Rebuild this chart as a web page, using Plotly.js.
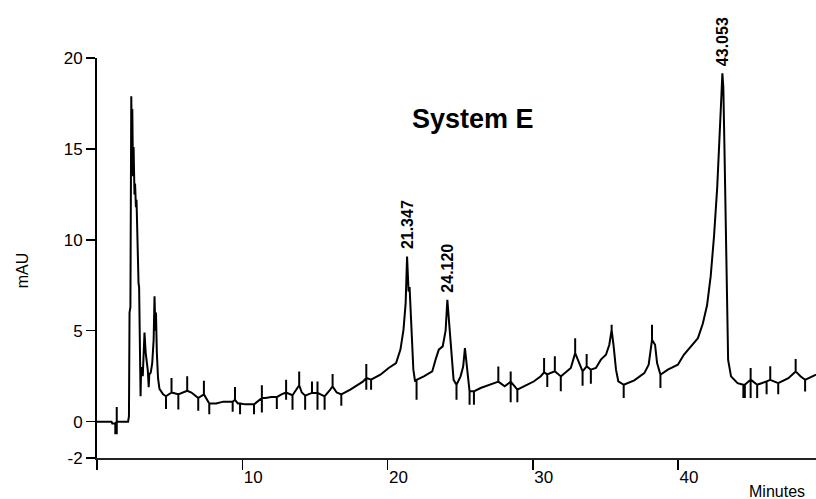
<!DOCTYPE html>
<html>
<head>
<meta charset="utf-8">
<script src="https://cdn.plot.ly/plotly-3.0.1.min.js"></script>
<style>html,body{margin:0;padding:0;background:#fff;}#chart{width:816px;height:499px;}</style>
</head>
<body>
<div id="chart"></div>
<script>
// Retention time (minutes) and detector signal (mAU)
const time = [
  0, 1.0, 1.05, 1.2, 1.26, 1.26, 1.26, 1.36, 1.36, 1.36, 1.36, 2.14,
  2.2, 2.24, 2.3, 2.36, 2.4, 2.43, 2.48, 2.52, 2.58, 2.62, 2.68, 2.72, 2.77, 2.8, 2.86, 2.9, 2.94, 2.97,
  3.0, 3.03, 3.08, 3.15, 3.22, 3.27, 3.35, 3.42, 3.5, 3.56, 3.6, 3.7, 3.8, 3.9, 3.96, 4.02, 4.06, 4.12, 4.2, 4.3, 4.45, 4.55,
  4.75, 4.75, 4.75, 5.13, 5.13, 5.13, 5.6, 5.6, 5.6, 6.21, 6.21, 6.21, 6.5, 6.97, 6.97, 6.97,
  7.36, 7.36, 7.36, 7.73, 7.73, 7.73, 8.2, 8.7, 9.34, 9.34, 9.34, 9.5, 9.5, 9.5, 9.7, 9.85, 9.85, 9.85,
  10.2, 10.81, 10.81, 10.81, 11.35, 11.35, 11.35, 11.35, 11.6, 12.0, 12.38, 12.38, 12.38, 12.7,
  13.02, 13.02, 13.02, 13.02, 13.46, 13.46, 13.46, 13.92, 13.92, 13.92, 14.1, 14.33, 14.33, 14.33,
  14.8, 14.8, 14.8, 15.18, 15.18, 15.18, 15.18, 15.67, 15.67, 15.67, 16.0, 16.22, 16.22, 16.22, 16.5,
  16.82, 16.82, 16.82, 17.44, 18.01, 18.3, 18.54, 18.54, 18.54, 18.54, 18.87, 18.87, 18.87,
  19.51, 20.08, 20.59, 20.89, 21.1, 21.25, 21.347, 21.45, 21.52, 21.65, 21.78, 21.9,
  22.0, 22.0, 22.0, 22.5, 23.08, 23.31, 23.53, 23.8, 24.0, 24.12, 24.25, 24.4, 24.55,
  24.75, 24.75, 24.75, 25.03, 25.21, 25.33, 25.49, 25.65, 25.65, 25.65, 25.95, 25.95, 25.95, 26.41,
  27.1, 27.63, 27.63, 27.63, 28.07, 28.48, 28.48, 28.48, 28.48, 28.94, 28.94, 28.94, 29.63, 30.09, 30.55,
  30.78, 30.78, 30.78, 31.0, 31.0, 31.0, 31.52, 31.52, 31.52, 31.93, 31.93, 31.93, 32.62,
  32.92, 32.92, 32.92, 33.2, 33.43, 33.43, 33.43, 33.71, 33.71, 33.71, 34.0, 34.0, 34.0, 34.35, 34.69,
  35.04, 35.27, 35.43, 35.43, 35.43, 35.57, 35.73, 35.89, 36.26, 36.26, 36.26, 36.99, 37.68, 37.98,
  38.21, 38.21, 38.21, 38.42, 38.56, 38.79, 38.79, 38.79, 39.3, 39.99, 40.4, 40.9, 41.37, 41.71,
  42.0, 42.25, 42.48, 42.7, 42.87, 42.98, 43.053, 43.12, 43.2, 43.3, 43.38, 43.45, 43.65, 44.1,
  44.5, 44.5, 44.5, 44.6, 44.6, 44.6, 45.0, 45.0, 45.0, 45.0, 45.45, 45.45, 45.45,
  46.1, 46.1, 46.1, 46.35, 46.35, 46.35, 46.9, 46.9, 46.9, 47.6, 48.1, 48.1, 48.1, 48.45,
  48.75, 48.75, 48.75, 49.5
];
const mau = [
  0, 0, -0.1, -0.1, -0.1, -0.7, -0.1, 0, 0.8, -0.7, 0, 0,
  0.3, 6.0, 6.3, 17.9, 15.5, 17.2, 13.5, 15.1, 12.5, 13.1, 11.8, 12.2, 9.8, 10.0, 7.6, 7.4, 4.6, 4.2,
  1.4, 2.6, 3.0, 2.5, 4.1, 4.9, 3.8, 3.4, 2.8, 1.9, 2.6, 2.7, 3.2, 4.5, 6.9, 5.0, 6.0, 3.8, 2.4, 1.8, 1.6, 1.5,
  1.4, 0.7, 1.4, 1.6, 2.4, 1.6, 1.5, 0.67, 1.5, 1.7, 2.5, 1.7, 1.6, 1.3, 0.6, 1.3,
  1.5, 2.25, 1.5, 1.0, 0.4, 1.0, 1.0, 1.1, 1.1, 0.55, 1.1, 1.2, 1.9, 1.2, 1.0, 1.0, 0.4, 1.0,
  0.95, 0.95, 0.4, 0.95, 1.3, 2.0, 0.5, 1.3, 1.3, 1.35, 1.35, 0.7, 1.35, 1.5,
  1.6, 2.3, 1.2, 1.6, 1.45, 0.66, 1.45, 2.0, 2.76, 2.0, 1.6, 1.43, 0.66, 1.43,
  1.58, 2.21, 1.58, 1.58, 2.21, 0.66, 1.58, 1.39, 0.66, 1.39, 1.7, 1.94, 2.62, 1.94, 1.6,
  1.5, 0.88, 1.5, 1.76, 2.03, 2.2, 2.4, 3.17, 1.76, 2.4, 2.31, 1.76, 2.31,
  2.58, 2.95, 3.22, 3.96, 5.05, 6.52, 9.08, 7.16, 7.4, 4.87, 2.86, 2.2,
  2.3, 1.21, 2.3, 2.49, 2.76, 3.41, 3.96, 4.14, 5.0, 6.7, 5.42, 3.59, 2.3,
  2.03, 1.21, 2.03, 2.49, 3.03, 4.05, 2.67, 1.67, 0.93, 1.67, 1.67, 0.93, 1.67, 1.85,
  2.03, 2.2, 3.03, 2.2, 1.94, 2.2, 2.76, 1.06, 2.2, 1.76, 1.06, 1.76, 2.03, 2.22, 2.5,
  2.71, 3.5, 2.71, 2.6, 1.9, 2.6, 2.77, 3.59, 2.77, 2.49, 1.67, 2.49, 2.95,
  3.77, 4.59, 3.77, 3.22, 2.77, 1.98, 2.77, 3.04, 3.72, 3.04, 2.86, 2.09, 2.86, 2.95, 3.41,
  3.68, 4.23, 5.05, 5.33, 5.05, 4.14, 2.86, 2.22, 2.03, 1.3, 2.03, 2.27, 2.67, 3.13,
  4.5, 5.33, 4.5, 4.23, 3.22, 2.58, 1.85, 2.58, 2.86, 3.13, 3.68, 4.14, 4.59, 5.4,
  6.4, 8.0, 10.2, 12.9, 15.5, 17.8, 19.16, 18.4, 14.95, 10.4, 5.8, 3.4, 2.49, 2.12,
  2.03, 1.3, 2.03, 2.03, 1.3, 2.03, 2.31, 2.95, 1.3, 2.31, 2.03, 1.3, 2.03,
  2.21, 1.5, 2.21, 2.3, 3.04, 2.3, 2.12, 1.5, 2.12, 2.39, 2.76, 3.44, 2.76, 2.48,
  2.3, 1.66, 2.3, 2.58
];

// Labelled peaks
const peakTimes = [21.347, 24.12, 43.053];
const peakValues = [9.08, 6.7, 19.16];
const peakLabels = ['21.347', '24.120', '43.053'];

// Axis ticks
const xTickVals = [0, 10, 20, 30, 40];
const xTickText = ['', '10', '20', '30', '40'];
const yTickVals = [-2, 0, 5, 10, 15, 20];
const yTickText = ['-2', '0', '5', '10', '15', '20'];

const chartTitle = 'System E';
const xLabel = 'Minutes';
const yLabel = 'mAU';

const FONT = 'Arial, "Liberation Sans", sans-serif';

const trace = {
  x: time, y: mau, type: 'scatter', mode: 'lines',
  line: {color: '#000', width: 2, shape: 'linear'},
  hoverinfo: 'skip'
};

const annotations = peakTimes.map((t, i) => ({
  x: t, y: peakValues[i], xref: 'x', yref: 'y',
  text: '<b>' + peakLabels[i] + '</b>', textangle: -90,
  showarrow: false, xanchor: 'center', yanchor: 'bottom', yshift: 5,
  font: {family: FONT, size: 16, color: '#000'}
}));
annotations.push({
  xref: 'paper', yref: 'paper', x: 0.523, y: 0.848,
  text: '<b>' + chartTitle + '</b>', showarrow: false,
  xanchor: 'center', yanchor: 'middle',
  font: {family: FONT, size: 27, color: '#000'}
});
annotations.push({
  xref: 'paper', yref: 'paper', x: 0.946, y: -0.083,
  text: xLabel, showarrow: false, xanchor: 'center', yanchor: 'middle',
  font: {family: FONT, size: 16, color: '#000'}
});
annotations.push({
  xref: 'paper', yref: 'paper', x: -0.104, y: 0.47,
  text: yLabel, showarrow: false, textangle: -90,
  xanchor: 'center', yanchor: 'middle',
  font: {family: FONT, size: 16, color: '#000'}
});

const layout = {
  width: 816, height: 499,
  margin: {l: 97, r: 0, t: 58, b: 41, pad: 0},
  paper_bgcolor: '#fff', plot_bgcolor: '#fff',
  showlegend: false,
  font: {family: FONT, size: 17, color: '#000'},
  xaxis: {
    range: [0, 49.5], showgrid: false, zeroline: false,
    showline: true, linecolor: '#222', linewidth: 2,
    ticks: 'outside', ticklen: 10, tickwidth: 1.5, tickcolor: '#000',
    tickvals: xTickVals, ticktext: xTickText, ticklabelshift: 11, ticklabelstandoff: -7,
    tickfont: {family: FONT, size: 17, color: '#000'}
  },
  yaxis: {
    range: [-2, 20], showgrid: false, zeroline: false,
    showline: true, linecolor: '#000', linewidth: 2,
    ticks: 'outside', ticklen: 9, tickwidth: 1.5, tickcolor: '#000',
    tickvals: yTickVals, ticktext: yTickText,
    tickfont: {family: FONT, size: 17, color: '#000'}
  },
  annotations: annotations
};

Plotly.newPlot('chart', [trace], layout, {staticPlot: true, displayModeBar: false});
</script>
</body>
</html>
